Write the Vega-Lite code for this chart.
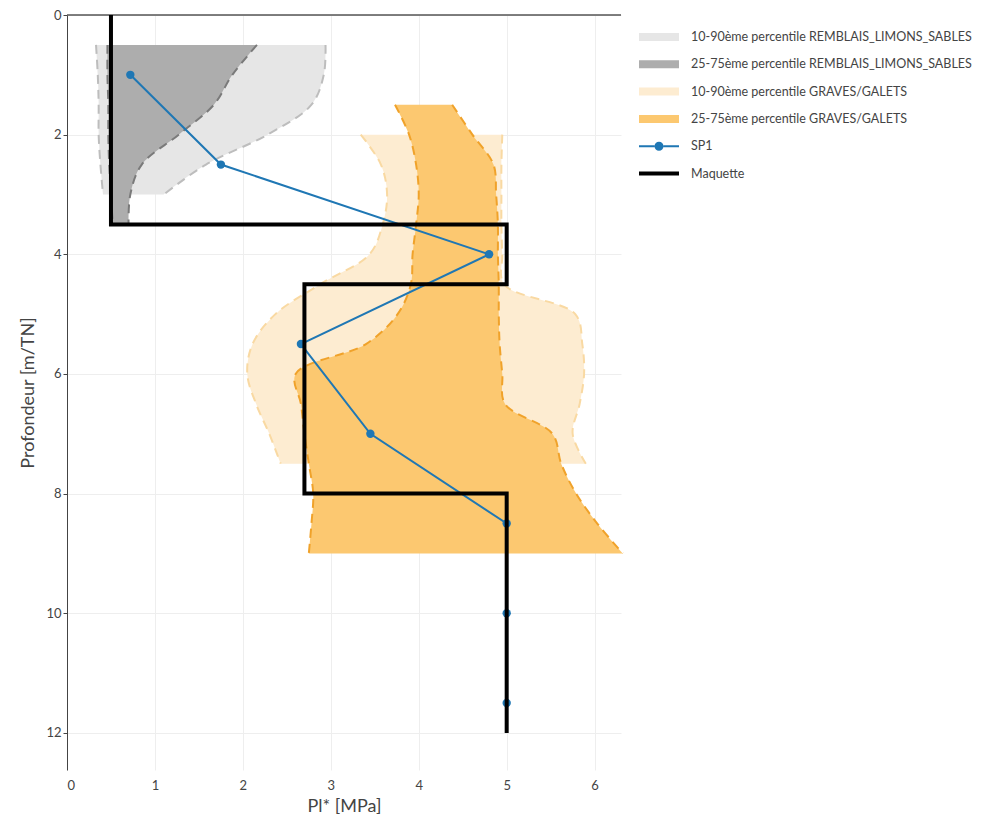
{
  "$schema": "https://vega.github.io/schema/vega-lite/v6.json",
  "width": 554,
  "height": 755,
  "padding": {"left": 19, "top": 7, "right": 5, "bottom": 5},
  "background": "white",
  "config": {
    "view": {"stroke": null},
    "font": "Lato",
    "axis": {"labelFont": "Lato", "titleFont": "Lato", "labelColor": "#444", "titleColor": "#444", "labelFontSize": 13, "titleFontSize": 18, "titleFontWeight": "normal", "gridColor": "#eeeeee", "gridWidth": 1}
  },
  "datasets": {
    "bands": [
      {"series": "10-90ème percentile REMBLAIS_LIMONS_SABLES", "y": 0.5, "lo": 0.33, "hi": 2.94},
      {"series": "10-90ème percentile REMBLAIS_LIMONS_SABLES", "y": 1.0, "lo": 0.35, "hi": 2.92},
      {"series": "10-90ème percentile REMBLAIS_LIMONS_SABLES", "y": 1.5, "lo": 0.36, "hi": 2.78},
      {"series": "10-90ème percentile REMBLAIS_LIMONS_SABLES", "y": 2.0, "lo": 0.36, "hi": 2.28},
      {"series": "10-90ème percentile REMBLAIS_LIMONS_SABLES", "y": 2.5, "lo": 0.38, "hi": 1.58},
      {"series": "10-90ème percentile REMBLAIS_LIMONS_SABLES", "y": 3.0, "lo": 0.41, "hi": 1.1},
      {"series": "25-75ème percentile REMBLAIS_LIMONS_SABLES", "y": 0.5, "lo": 0.46, "hi": 2.16},
      {"series": "25-75ème percentile REMBLAIS_LIMONS_SABLES", "y": 1.0, "lo": 0.46, "hi": 1.88},
      {"series": "25-75ème percentile REMBLAIS_LIMONS_SABLES", "y": 1.5, "lo": 0.47, "hi": 1.67},
      {"series": "25-75ème percentile REMBLAIS_LIMONS_SABLES", "y": 2.0, "lo": 0.47, "hi": 1.27},
      {"series": "25-75ème percentile REMBLAIS_LIMONS_SABLES", "y": 2.5, "lo": 0.48, "hi": 0.85},
      {"series": "25-75ème percentile REMBLAIS_LIMONS_SABLES", "y": 3.0, "lo": 0.5, "hi": 0.72},
      {"series": "25-75ème percentile REMBLAIS_LIMONS_SABLES", "y": 3.5, "lo": 0.52, "hi": 0.7},
      {"series": "10-90ème percentile GRAVES/GALETS", "y": 2.0, "lo": 3.34, "hi": 4.95},
      {"series": "10-90ème percentile GRAVES/GALETS", "y": 2.5, "lo": 3.57, "hi": 4.94},
      {"series": "10-90ème percentile GRAVES/GALETS", "y": 3.0, "lo": 3.64, "hi": 4.94},
      {"series": "10-90ème percentile GRAVES/GALETS", "y": 3.5, "lo": 3.59, "hi": 4.94},
      {"series": "10-90ème percentile GRAVES/GALETS", "y": 4.0, "lo": 3.44, "hi": 4.95},
      {"series": "10-90ème percentile GRAVES/GALETS", "y": 4.5, "lo": 2.88, "hi": 4.97},
      {"series": "10-90ème percentile GRAVES/GALETS", "y": 5.0, "lo": 2.37, "hi": 5.78},
      {"series": "10-90ème percentile GRAVES/GALETS", "y": 5.5, "lo": 2.11, "hi": 5.86},
      {"series": "10-90ème percentile GRAVES/GALETS", "y": 6.0, "lo": 2.05, "hi": 5.88},
      {"series": "10-90ème percentile GRAVES/GALETS", "y": 6.5, "lo": 2.15, "hi": 5.83},
      {"series": "10-90ème percentile GRAVES/GALETS", "y": 7.0, "lo": 2.3, "hi": 5.75},
      {"series": "10-90ème percentile GRAVES/GALETS", "y": 7.5, "lo": 2.43, "hi": 5.9},
      {"series": "25-75ème percentile GRAVES/GALETS", "y": 1.5, "lo": 3.73, "hi": 4.38},
      {"series": "25-75ème percentile GRAVES/GALETS", "y": 2.0, "lo": 3.89, "hi": 4.61},
      {"series": "25-75ème percentile GRAVES/GALETS", "y": 2.5, "lo": 3.97, "hi": 4.85},
      {"series": "25-75ème percentile GRAVES/GALETS", "y": 3.0, "lo": 4.0, "hi": 4.88},
      {"series": "25-75ème percentile GRAVES/GALETS", "y": 3.5, "lo": 3.97, "hi": 4.9},
      {"series": "25-75ème percentile GRAVES/GALETS", "y": 4.0, "lo": 3.93, "hi": 4.9},
      {"series": "25-75ème percentile GRAVES/GALETS", "y": 4.5, "lo": 3.91, "hi": 4.91},
      {"series": "25-75ème percentile GRAVES/GALETS", "y": 5.0, "lo": 3.76, "hi": 4.91},
      {"series": "25-75ème percentile GRAVES/GALETS", "y": 5.5, "lo": 3.4, "hi": 4.92},
      {"series": "25-75ème percentile GRAVES/GALETS", "y": 6.0, "lo": 2.6, "hi": 4.95},
      {"series": "25-75ème percentile GRAVES/GALETS", "y": 6.5, "lo": 2.66, "hi": 4.98},
      {"series": "25-75ème percentile GRAVES/GALETS", "y": 7.0, "lo": 2.7, "hi": 5.52},
      {"series": "25-75ème percentile GRAVES/GALETS", "y": 7.5, "lo": 2.75, "hi": 5.62},
      {"series": "25-75ème percentile GRAVES/GALETS", "y": 8.0, "lo": 2.8, "hi": 5.79},
      {"series": "25-75ème percentile GRAVES/GALETS", "y": 8.5, "lo": 2.78, "hi": 6.03},
      {"series": "25-75ème percentile GRAVES/GALETS", "y": 9.0, "lo": 2.75, "hi": 6.32}
    ],
    "sp1": [
      {"series": "SP1", "x": 0.72, "y": 1.0},
      {"series": "SP1", "x": 1.75, "y": 2.5},
      {"series": "SP1", "x": 4.8, "y": 4.0},
      {"series": "SP1", "x": 2.66, "y": 5.5},
      {"series": "SP1", "x": 3.45, "y": 7.0},
      {"series": "SP1", "x": 5.0, "y": 8.5},
      {"series": "SP1", "x": 5.0, "y": 10.0},
      {"series": "SP1", "x": 5.0, "y": 11.5}
    ],
    "maquette": [
      {"series": "Maquette", "i": 0, "x": 0.5, "y": 0},
      {"series": "Maquette", "i": 1, "x": 0.5, "y": 3.5},
      {"series": "Maquette", "i": 2, "x": 5.0, "y": 3.5},
      {"series": "Maquette", "i": 3, "x": 5.0, "y": 4.5},
      {"series": "Maquette", "i": 4, "x": 2.7, "y": 4.5},
      {"series": "Maquette", "i": 5, "x": 2.7, "y": 8.0},
      {"series": "Maquette", "i": 6, "x": 5.0, "y": 8.0},
      {"series": "Maquette", "i": 7, "x": 5.0, "y": 12.0}
    ],
    "zero": [{"y": 0}]
  },
  "layer": [
    {
      "data": {"name": "bands"},
      "mark": {"type": "area", "orient": "horizontal", "interpolate": "catmull-rom", "opacity": 1},
      "encoding": {
        "y": {"field": "y", "type": "quantitative", "scale": {"domain": [0, 12.62], "reverse": true, "nice": false, "zero": false},
              "axis": {"title": "Profondeur [m/TN]", "values": [0, 2, 4, 6, 8, 10, 12], "format": "d", "domain": true, "domainColor": "#444", "domainWidth": 1, "ticks": true, "tickSize": 4, "tickColor": "#444", "labelPadding": 2, "titlePadding": 8, "grid": true}},
        "x": {"field": "lo", "type": "quantitative", "scale": {"domain": [0, 6.3], "nice": false},
              "axis": {"title": "Pl* [MPa]", "values": [0, 1, 2, 3, 4, 5, 6], "format": "d", "domain": false, "ticks": false, "labelPadding": 9, "titlePadding": 5, "grid": true}},
        "x2": {"field": "hi"},
        "color": {
          "field": "series", "type": "nominal",
          "scale": {
            "domain": ["10-90ème percentile REMBLAIS_LIMONS_SABLES", "25-75ème percentile REMBLAIS_LIMONS_SABLES", "10-90ème percentile GRAVES/GALETS", "25-75ème percentile GRAVES/GALETS", "SP1", "Maquette"],
            "range": ["#e6e6e6", "#adadad", "#fdecd1", "#fcc870", "#1f77b4", "#000000"]
          },
          "legend": {
            "title": null, "orient": "none", "legendX": 582, "legendY": 12,
            "padding": 0, "rowPadding": 10.3, "labelOffset": 22, "symbolSize": 400,
            "labelFont": "Lato", "labelFontSize": 12.5, "labelColor": "#444", "labelLimit": 400,
            "symbolStrokeWidth": 0, "symbolOpacity": 1
          }
        }
      }
    },
    {
      "data": {"name": "sp1"},
      "transform": [{"filter": "datum.x < 0"}],
      "mark": {"type": "point", "filled": true, "opacity": 1},
      "encoding": {
        "y": {"field": "y", "type": "quantitative"},
        "x": {"field": "x", "type": "quantitative"},
        "color": {"field": "series", "type": "nominal"},
        "shape": {
          "field": "series", "type": "nominal",
          "scale": {
            "domain": ["10-90ème percentile REMBLAIS_LIMONS_SABLES", "25-75ème percentile REMBLAIS_LIMONS_SABLES", "10-90ème percentile GRAVES/GALETS", "25-75ème percentile GRAVES/GALETS", "SP1", "Maquette"],
            "range": ["M-2,-0.4H2V0.4H-2Z", "M-2,-0.4H2V0.4H-2Z", "M-2,-0.4H2V0.4H-2Z", "M-2,-0.4H2V0.4H-2Z", "M-2,-0.1H-0.45V0.1H-2Z M0.45,-0.1H2V0.1H0.45Z M-0.45,0 A0.45,0.45 0 1,1 0.45,0 A0.45,0.45 0 1,1 -0.45,0 Z", "M-2,-0.2H2V0.2H-2Z"]
          },
          "legend": {
            "title": null, "orient": "none", "legendX": 582, "legendY": 12,
            "padding": 0, "rowPadding": 10.3, "labelOffset": 22, "symbolSize": 400,
            "labelFont": "Lato", "labelFontSize": 12.5, "labelColor": "#444", "labelLimit": 400,
            "symbolStrokeWidth": 0, "symbolOpacity": 1
          }
        }
      }
    },
    {
      "data": {"name": "bands"},
      "transform": [{"fold": ["lo", "hi"], "as": ["side", "edge"]}],
      "mark": {"type": "line", "interpolate": "catmull-rom", "strokeDash": [9, 6], "strokeWidth": 2},
      "encoding": {
        "y": {"field": "y", "type": "quantitative"},
        "x": {"field": "edge", "type": "quantitative"},
        "order": {"field": "y", "type": "quantitative"},
        "detail": {"field": "side"},
        "stroke": {
          "field": "series", "type": "nominal", "legend": null,
          "scale": {
            "domain": ["10-90ème percentile REMBLAIS_LIMONS_SABLES", "25-75ème percentile REMBLAIS_LIMONS_SABLES", "10-90ème percentile GRAVES/GALETS", "25-75ème percentile GRAVES/GALETS"],
            "range": ["#bdbdbd", "#7a7a7a", "#f9d9a2", "#f0a22a"]
          }
        }
      }
    },
    {
      "data": {"name": "zero"},
      "mark": {"type": "rule", "color": "#555", "strokeWidth": 1.5},
      "encoding": {"y": {"field": "y", "type": "quantitative"}}
    },
    {
      "data": {"name": "sp1"},
      "mark": {"type": "line", "color": "#1f77b4", "strokeWidth": 2, "point": {"filled": true, "size": 70, "color": "#1f77b4"}},
      "encoding": {
        "y": {"field": "y", "type": "quantitative"},
        "x": {"field": "x", "type": "quantitative"},
        "order": {"field": "y", "type": "quantitative"}
      }
    },
    {
      "data": {"name": "maquette"},
      "mark": {"type": "line", "color": "#000000", "strokeWidth": 4, "strokeJoin": "miter", "strokeCap": "butt"},
      "encoding": {
        "y": {"field": "y", "type": "quantitative"},
        "x": {"field": "x", "type": "quantitative"},
        "order": {"field": "i", "type": "quantitative"}
      }
    }
  ]
}
